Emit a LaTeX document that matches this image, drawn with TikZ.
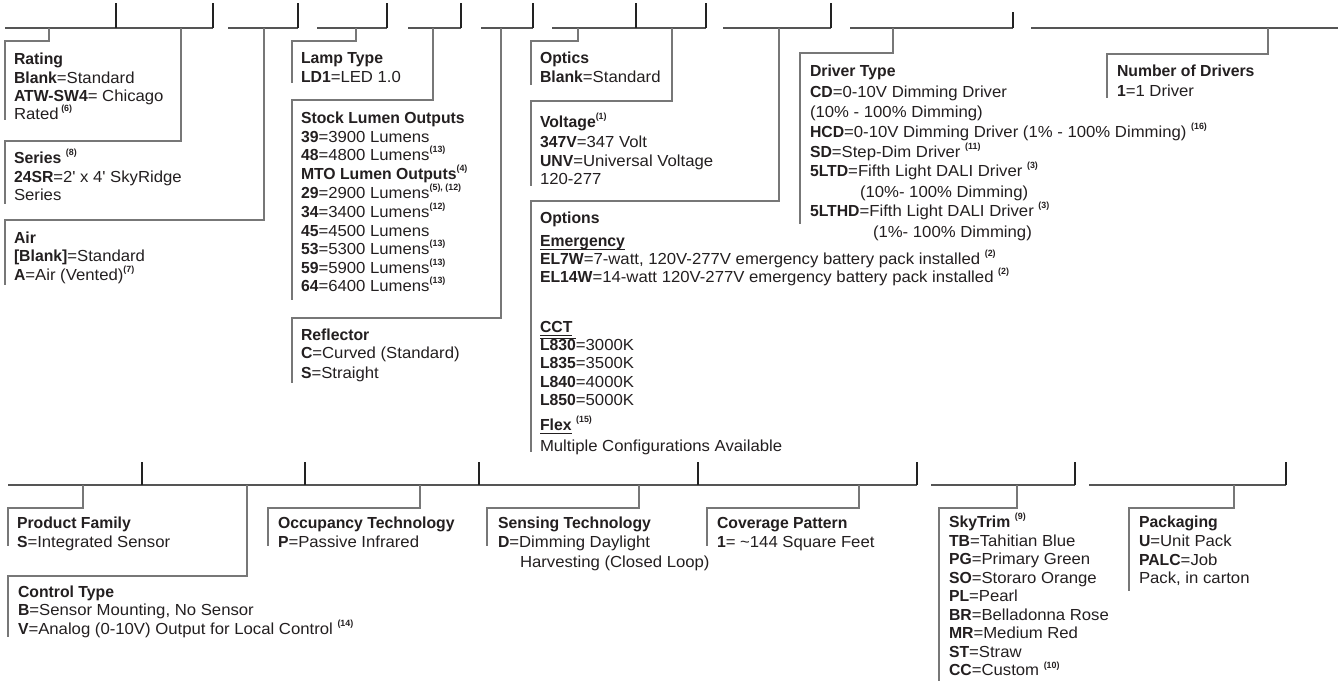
\documentclass[tikz,border=0pt]{standalone}
\usepackage{fontspec}
\setmainfont{Liberation Sans}[FakeStretch=1.045, BoldFeatures={FakeStretch=0.985}]
\definecolor{txtc}{HTML}{231F20}
\definecolor{barc}{HTML}{555555}
\definecolor{tickc}{HTML}{222222}
\definecolor{connc}{HTML}{777777}
\newcommand{\fn}[1]{\raisebox{0.45em}{\fontsize{9}{9}\selectfont\bfseries #1}}
\begin{document}
\begin{tikzpicture}[x=1pt,y=-1pt,
  txt/.style={anchor=base west, inner sep=0pt, outer sep=0pt, font=\fontsize{16}{18}\selectfont, text=txtc},
  bar/.style={draw=barc, line width=1.1pt},
  tickl/.style={draw=tickc, line width=1.1pt},
  conn/.style={draw=connc, line width=1.3pt},
  ul/.style={draw=txtc, line width=0.9pt}]
\useasboundingbox (0,0) rectangle (1338,683);

% ---------- top bars ----------
\draw[bar] (5,28) -- (213,28);
\draw[tickl] (213,28) -- (213,3);
\draw[tickl] (116,3) -- (116,28);
\draw[bar] (228,28) -- (298,28); \draw[tickl] (298,28) -- (298,3);
\draw[bar] (317,28) -- (387,28); \draw[tickl] (387,28) -- (387,3);
\draw[bar] (408,28) -- (461,28); \draw[tickl] (461,28) -- (461,3);
\draw[bar] (481,28) -- (533,28); \draw[tickl] (533,28) -- (533,3);
\draw[bar] (552,28) -- (706,28); \draw[tickl] (706,28) -- (706,3);
\draw[tickl] (636,3) -- (636,28);
\draw[bar] (723,28) -- (831,28); \draw[tickl] (831,28) -- (831,3);
\draw[bar] (850,28) -- (1013,28); \draw[tickl] (1013,28) -- (1013,12);
\draw[bar] (1031,28) -- (1338,28);

% ---------- top connectors ----------
\draw[conn] (49,28) |- (5,41) -- (5,120);
\draw[conn] (181,28) |- (5,141) -- (5,204);
\draw[conn] (264,28) |- (5,220) -- (5,285);
\draw[conn] (356,28) |- (292,41) -- (292,83);
\draw[conn] (433,28) |- (292,100) -- (292,300);
\draw[conn] (501,28) |- (292,318) -- (292,383);
\draw[conn] (578,28) |- (531,41) -- (531,85);
\draw[conn] (672,28) |- (531,101) -- (531,186);
\draw[conn] (779,28) |- (531,201) -- (531,452);
\draw[conn] (893,28) |- (800,53) -- (800,224);
\draw[conn] (1268,28) |- (1107,54) -- (1107,98);

% ---------- top texts ----------
\node[txt] (r1) at (14,64) {\bfseries Rating};
\node[txt] (r2) at (14,83) {\textbf{Blank}=Standard};
\node[txt] (r3) at (14,101) {\textbf{ATW-SW4}= Chicago};
\node[txt] (r4) at (14,119) {Rated\,\fn{(6)}};

\node[txt] (s1) at (14,163) {\textbf{Series}\ \fn{(8)}};
\node[txt] (s2) at (14,182) {\textbf{24SR}=2\textquotesingle\ x 4\textquotesingle\ SkyRidge};
\node[txt] (s3) at (14,200) {Series};

\node[txt] (a1) at (14,243) {\bfseries Air};
\node[txt] (a2) at (14,261) {\textbf{[Blank]}=Standard};
\node[txt] (a3) at (14,280) {\textbf{A}=Air (Vented)\fn{(7)}};

\node[txt] (l1) at (301,63) {\bfseries Lamp Type};
\node[txt] (l2) at (301,82) {\textbf{LD1}=LED 1.0};

\node[txt] (k1) at (301,123) {\bfseries Stock Lumen Outputs};
\node[txt] (k2) at (301,142) {\textbf{39}=3900 Lumens};
\node[txt] (k3) at (301,160) {\textbf{48}=4800 Lumens\fn{(13)}};
\node[txt] (k4) at (301,179) {\textbf{MTO Lumen Outputs}\fn{(4)}};
\node[txt] (k5) at (301,198) {\textbf{29}=2900 Lumens\fn{(5), (12)}};
\node[txt] (k6) at (301,217) {\textbf{34}=3400 Lumens\fn{(12)}};
\node[txt] (k7) at (301,236) {\textbf{45}=4500 Lumens};
\node[txt] (k8) at (301,254) {\textbf{53}=5300 Lumens\fn{(13)}};
\node[txt] (k9) at (301,273) {\textbf{59}=5900 Lumens\fn{(13)}};
\node[txt] (k10) at (301,291) {\textbf{64}=6400 Lumens\fn{(13)}};

\node[txt] (f1) at (301,340) {\bfseries Reflector};
\node[txt] (f2) at (301,358) {\textbf{C}=Curved (Standard)};
\node[txt] (f3) at (301,378) {\textbf{S}=Straight};

\node[txt] (o1) at (540,63) {\bfseries Optics};
\node[txt] (o2) at (540,82) {\textbf{Blank}=Standard};

\node[txt] (v1) at (540,127) {\textbf{Voltage}\fn{(1)}};
\node[txt] (v2) at (540,147) {\textbf{347V}=347 Volt};
\node[txt] (v3) at (540,166) {\textbf{UNV}=Universal Voltage};
\node[txt] (v4) at (540,184) {120-277};

\node[txt] (p1) at (540,223) {\bfseries Options};
\node[txt] (p2) at (540,246) {\bfseries Emergency};
\node[txt] (p3) at (540,264) {\textbf{EL7W}=7-watt, 120V-277V emergency battery pack installed \fn{(2)}};
\node[txt] (p4) at (540,282) {\textbf{EL14W}=14-watt 120V-277V emergency battery pack installed \fn{(2)}};
\node[txt] (p5) at (540,332) {\bfseries CCT};
\node[txt] (p6) at (540,350) {\textbf{L830}\rlap{=3000K}};
\node[txt] (p7) at (540,368) {\textbf{L835}=3500K};
\node[txt] (p8) at (540,387) {\textbf{L840}=4000K};
\node[txt] (p9) at (540,405) {\textbf{L850}=5000K};
\node[txt] (p10) at (540,430) {\textbf{Flex}\rlap{\ \fn{(15)}}};
\node[txt] (p11) at (540,451) {Multiple Configurations Available};
\draw[ul] ([yshift=-3.5pt]p2.base west) -- ([yshift=-3.5pt]p2.base east);
\draw[ul] ([yshift=-3pt]p5.base west) -- ([yshift=-3pt]p5.base east);
\draw[ul] ([yshift=12pt]p6.base west) -- ([yshift=12pt]p6.base east);
\draw[ul] ([yshift=-3pt]p10.base west) -- ([yshift=-3pt]p10.base east);

\node[txt] (d1) at (810,76.5) {\bfseries Driver Type};
\node[txt] (d2) at (810,97) {\textbf{CD}=0-10V Dimming Driver};
\node[txt] (d3) at (810,117) {(10\% - 100\% Dimming)};
\node[txt] (d4) at (810,137) {\textbf{HCD}=0-10V Dimming Driver (1\% - 100\% Dimming) \fn{(16)}};
\node[txt] (d5) at (810,157) {\textbf{SD}=Step-Dim Driver \fn{(11)}};
\node[txt] (d6) at (810,176) {\textbf{5LTD}=Fifth Light DALI Driver \fn{(3)}};
\node[txt] (d7) at (860,197) {(10\%- 100\% Dimming)};
\node[txt] (d8) at (810,216) {\textbf{5LTHD}=Fifth Light DALI Driver \fn{(3)}};
\node[txt] (d9) at (873,237) {(1\%- 100\% Dimming)};

\node[txt] (n1) at (1117,76.5) {\bfseries Number of Drivers};
\node[txt] (n2) at (1117,96) {\textbf{1}=1 Driver};

% ---------- bottom bars ----------
\draw[bar] (8,485) -- (917,485);
\draw[tickl] (917,485) -- (917,462);
\foreach \xx in {142,305,479,698} \draw[tickl] (\xx,462) -- (\xx,485);
\draw[bar] (931,485) -- (1075,485); \draw[tickl] (1075,485) -- (1075,462);
\draw[bar] (1089,485) -- (1286,485); \draw[tickl] (1286,485) -- (1286,462);

% ---------- bottom connectors ----------
\draw[conn] (83,485) |- (8,508) -- (8,546);
\draw[conn] (247,485) |- (8,576) -- (8,637);
\draw[conn] (420,485) |- (268,508) -- (268,546);
\draw[conn] (639,485) |- (487,508) -- (487,546);
\draw[conn] (859,485) |- (707,508) -- (707,546);
\draw[conn] (1017,485) |- (939,508) -- (939,681);
\draw[conn] (1234,485) |- (1129,508) -- (1129,591);

% ---------- bottom texts ----------
\node[txt] (pf1) at (17,528) {\bfseries Product Family};
\node[txt] (pf2) at (17,547) {\textbf{S}=Integrated Sensor};

\node[txt] (ct1) at (18,597) {\bfseries Control Type};
\node[txt] (ct2) at (18,615) {\textbf{B}=Sensor Mounting, No Sensor};
\node[txt] (ct3) at (18,634) {\textbf{V}=Analog (0-10V) Output for Local Control \fn{(14)}};

\node[txt] (oc1) at (278,528) {\bfseries Occupancy Technology};
\node[txt] (oc2) at (278,547) {\textbf{P}=Passive Infrared};

\node[txt] (se1) at (498,528) {\bfseries Sensing Technology};
\node[txt] (se2) at (498,547) {\textbf{D}=Dimming Daylight};
\node[txt] (se3) at (520,567) {Harvesting (Closed Loop)};

\node[txt] (cv1) at (717,528) {\bfseries Coverage Pattern};
\node[txt] (cv2) at (717,547) {\textbf{1}= \textasciitilde144 Square Feet};

\node[txt] (sk1) at (949,527) {\textbf{SkyTrim}\ \fn{(9)}};
\node[txt] (sk2) at (949,546) {\textbf{TB}=Tahitian Blue};
\node[txt] (sk3) at (949,564.5) {\textbf{PG}=Primary Green};
\node[txt] (sk4) at (949,583) {\textbf{SO}=Storaro Orange};
\node[txt] (sk5) at (949,601.5) {\textbf{PL}=Pearl};
\node[txt] (sk6) at (949,620) {\textbf{BR}=Belladonna Rose};
\node[txt] (sk7) at (949,638.5) {\textbf{MR}=Medium Red};
\node[txt] (sk8) at (949,657) {\textbf{ST}=Straw};
\node[txt] (sk9) at (949,675.5) {\textbf{CC}=Custom \fn{(10)}};

\node[txt] (pk1) at (1139,527) {\bfseries Packaging};
\node[txt] (pk2) at (1139,546) {\textbf{U}=Unit Pack};
\node[txt] (pk3) at (1139,565) {\textbf{PALC}=Job};
\node[txt] (pk4) at (1139,583) {Pack, in carton};
\end{tikzpicture}
\end{document}
